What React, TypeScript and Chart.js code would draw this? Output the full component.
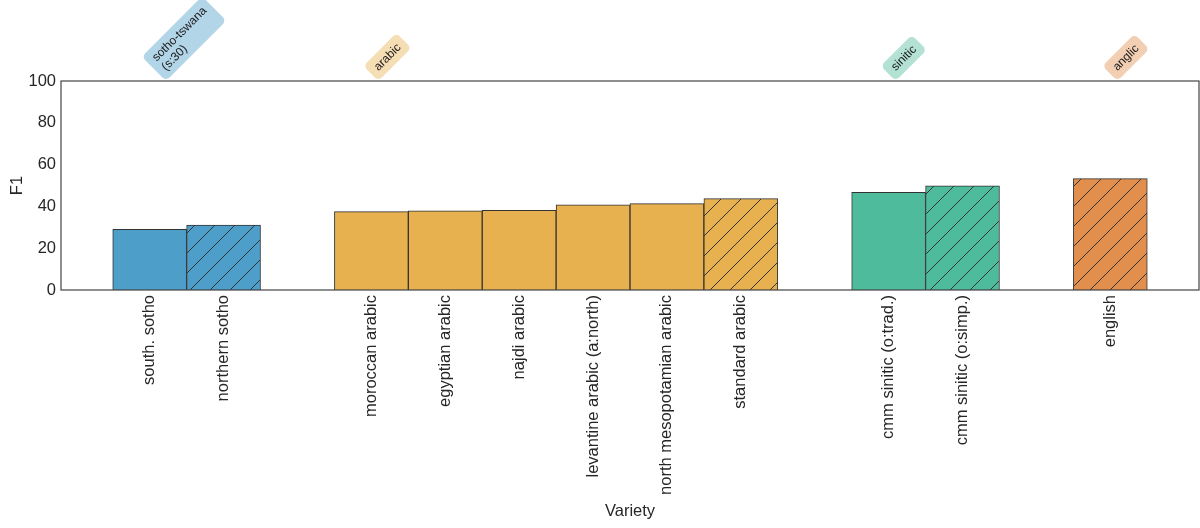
import { useEffect, useRef } from "react";
import { Chart, registerables } from "chart.js";

Chart.register(...registerables);

const varieties = [
  "south. sotho",
  "northern sotho",
  "moroccan arabic",
  "egyptian arabic",
  "najdi arabic",
  "levantine arabic (a:north)",
  "north mesopotamian arabic",
  "standard arabic",
  "cmm sinitic (o:trad.)",
  "cmm sinitic (o:simp.)",
  "english",
];
const positions = [0, 1, 3, 4, 5, 6, 7, 8, 10, 11, 13];
const f1Scores = [29.0, 31.1, 37.5, 37.9, 38.1, 40.7, 41.3, 43.7, 46.7, 49.8, 53.3];
const families = [0, 0, 1, 1, 1, 1, 1, 1, 2, 2, 3];
const hatched = [false, true, false, false, false, false, false, true, false, true, true];

const familyLabels = [["sotho-tswana", "(s:30)"], ["arabic"], ["sinitic"], ["anglic"]];
const familyBarColors = ["#4d9ec9", "#e8b150", "#4ebb9d", "#e28e4c"];
const familyBoxColors = ["#b3d5e8", "#f5ddb4", "#b3e2d5", "#f2cfb3"];

const FONT = "'Liberation Sans', Arial, sans-serif";
const EDGE = "#333333";

function makeHatch(color: string) {
  const s = 20;
  const c = document.createElement("canvas");
  c.width = s;
  c.height = s;
  const g = c.getContext("2d")!;
  g.fillStyle = color;
  g.fillRect(0, 0, s, s);
  g.strokeStyle = EDGE;
  g.lineWidth = 1;
  g.beginPath();
  for (const k of [-1, 0, 1]) {
    g.moveTo(k * s, s);
    g.lineTo(k * s + s, 0);
  }
  g.stroke();
  return g.createPattern(c, "repeat")!;
}

// frame round the plot, plus the rotated family tags above it
const decorations = {
  id: "decorations",
  afterDraw(chart: Chart) {
    const { ctx, chartArea } = chart;
    const xs = chart.scales.x;
    ctx.save();
    ctx.strokeStyle = "#444";
    ctx.lineWidth = 1.2;
    ctx.strokeRect(chartArea.left, chartArea.top, chartArea.right - chartArea.left, chartArea.bottom - chartArea.top);

    const fs = 12;
    const lh = fs * 1.1;
    ctx.font = `${fs}px ${FONT}`;
    familyLabels.forEach((lines, fi) => {
      const first = families.indexOf(fi);
      const cx = xs.getPixelForValue(positions[first]);
      const padX = 7;
      const padY = 4;
      const w = Math.max(...lines.map((l) => ctx.measureText(l).width)) + padX * 2;
      const h = lines.length * lh + padY * 2;
      const leftmost = cx - 8;
      const bx = leftmost + h * Math.SQRT1_2;
      const by = chartArea.top;
      ctx.save();
      ctx.translate(bx, by);
      ctx.rotate(-Math.PI / 4);
      ctx.fillStyle = familyBoxColors[fi];
      ctx.beginPath();
      ctx.roundRect(0, -h, w, h, 5);
      ctx.fill();
      ctx.fillStyle = "#1a1a1a";
      ctx.textBaseline = "top";
      ctx.textAlign = "left";
      lines.forEach((l, i) => ctx.fillText(l, padX, -h + padY + i * lh + 1));
      ctx.restore();
    });
    ctx.restore();
  },
};

export default function App() {
  const chartRef = useRef<HTMLCanvasElement>(null);

  useEffect(() => {
    document.body.style.margin = "0";
    if (!chartRef.current) return;
    const ctx = chartRef.current.getContext("2d");
    if (!ctx) return;

    const colors = varieties.map((_, i) =>
      hatched[i] ? makeHatch(familyBarColors[families[i]]) : familyBarColors[families[i]]
    );

    const chart = new Chart(ctx, {
      type: "bar",
      data: {
        datasets: [
          {
            data: positions.map((p, i) => ({ x: p, y: f1Scores[i] })),
            backgroundColor: colors,
            borderColor: EDGE,
            borderWidth: 1,
            barPercentage: 1,
            categoryPercentage: 1,
          },
        ],
      },
      options: {
        responsive: false,
        animation: false,
        layout: { padding: { top: 81, right: 1, left: 0, bottom: 0 } },
        plugins: { legend: { display: false }, tooltip: { enabled: false } },
        scales: {
          x: {
            type: "linear",
            min: -1.2,
            max: 14.2,
            offset: false,
            grid: { display: false, drawTicks: false, offset: false },
            border: { display: false },
            afterBuildTicks: (scale: any) => {
              scale.ticks = positions.map((p) => ({ value: p }));
            },
            afterFit: (scale: any) => {
              scale.height = 238;
            },
            ticks: {
              autoSkip: false,
              minRotation: 90,
              maxRotation: 90,
              padding: 5,
              color: "#262626",
              font: { family: FONT, size: 16.5 },
              callback: (v: any) => {
                const i = positions.indexOf(Number(v));
                return i >= 0 ? varieties[i] : "";
              },
            },
            title: {
              display: true,
              text: "Variety",
              color: "#262626",
              font: { family: FONT, size: 16.5 },
              padding: { top: 4, bottom: 7 },
            },
          },
          y: {
            min: 0,
            max: 100,
            grid: { display: false, drawTicks: false },
            border: { display: false },
            afterFit: (scale: any) => {
              scale.width = 61;
            },
            ticks: {
              stepSize: 20,
              padding: 5,
              color: "#262626",
              font: { family: FONT, size: 16.5 },
            },
            title: {
              display: true,
              text: "F1",
              color: "#262626",
              font: { family: FONT, size: 16.5 },
              padding: { top: 8, bottom: 4 },
            },
          },
        },
      },
      plugins: [decorations],
    });

    return () => {
      chart.destroy();
    };
  }, []);

  return (
    <div style={{ width: 1200, height: 528 }}>
      <canvas ref={chartRef} width={1200} height={528}></canvas>
    </div>
  );
}
